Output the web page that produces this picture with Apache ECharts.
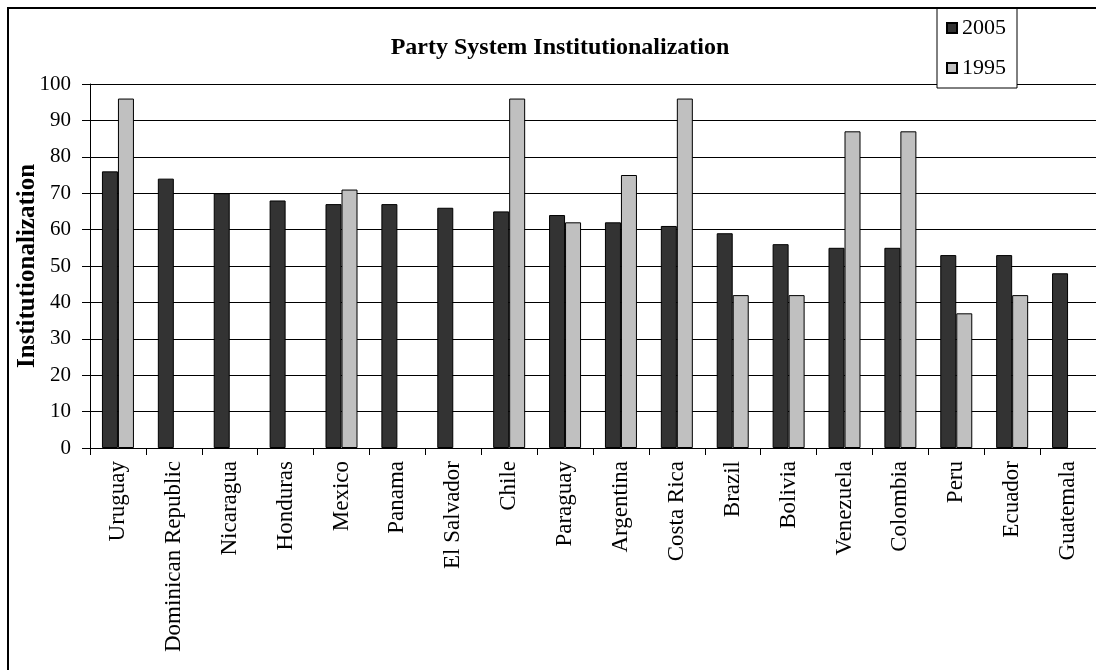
<!DOCTYPE html>
<html>
<head>
<meta charset="utf-8">
<script src="https://cdn.jsdelivr.net/npm/echarts@6/dist/echarts.min.js"></script>
<style>
html,body{margin:0;padding:0;background:#fff;}
#chart{width:1096px;height:670px;}
</style>
</head>
<body>
<div id="chart"></div>
<script>
const categories = ["Uruguay","Dominican Republic","Nicaragua","Honduras","Mexico","Panama","El Salvador","Chile","Paraguay","Argentina","Costa Rica","Brazil","Bolivia","Venezuela","Colombia","Peru","Ecuador","Guatemala"];
const values2005 = [76,74,70,68,67,67,66,65,64,62,61,59,56,55,55,53,53,48];
const values1995 = [96,null,null,null,71,null,null,96,62,75,96,42,42,87,87,37,42,null];
const seriesNames = ["2005","1995"];
const yTicks = {min:0, max:100, interval:10};

const FONT = "'Liberation Serif','Times New Roman',serif";
const chart = echarts.init(document.getElementById('chart'), null, {renderer:'canvas'});
chart.setOption({
  animation:false,
  backgroundColor:'#fff',
  title:{
    text:'Party System Institutionalization',
    left:555, top:31, textAlign:'center',
    textStyle:{fontFamily:FONT, fontSize:24, fontWeight:'bold', color:'#000'}
  },
  legend:{
    orient:'vertical', left:937, top:8,
    padding:[9,11,9,9],
    borderColor:'#000', borderWidth:1, backgroundColor:'#fff',
    itemWidth:10, itemHeight:10, itemGap:18,
    icon:'rect',
    textStyle:{fontFamily:FONT, fontSize:22, color:'#000', padding:[0,0,0,0]},
    data:seriesNames
  },
  grid:{left:90, top:84, width:1015, height:364, containLabel:false},
  xAxis:{
    type:'category', data:categories,
    axisLine:{lineStyle:{color:'#000', width:1}},
    axisTick:{show:true, length:7, lineStyle:{color:'#000'}},
    axisLabel:{rotate:90, interval:0, margin:13, fontFamily:FONT, fontSize:23, color:'#000'}
  },
  yAxis:{
    type:'value', min:yTicks.min, max:yTicks.max, interval:yTicks.interval,
    name:'Institutionalization', nameLocation:'middle', nameGap:50, nameRotate:90,
    nameMoveOverlap:false,
    nameTextStyle:{fontFamily:FONT, fontSize:25, fontWeight:'bold', color:'#000'},
    axisLine:{show:true, lineStyle:{color:'#000', width:1}},
    axisTick:{show:true, length:8, lineStyle:{color:'#000'}},
    axisLabel:{margin:19, fontFamily:FONT, fontSize:21, color:'#000'},
    splitLine:{show:true, lineStyle:{color:'#000', width:1}}
  },
  series:[
    {name:seriesNames[0], type:'bar', data:values2005, barWidth:16, barGap:'0%',
     itemStyle:{color:'#333333', borderColor:'#000', borderWidth:1}},
    {name:seriesNames[1], type:'bar', data:values1995, barWidth:16, barGap:'0%',
     itemStyle:{color:'#c0c0c0', borderColor:'#000', borderWidth:1}}
  ],
  graphic:[
    {type:'rect', shape:{x:8, y:8, width:1300, height:900}, style:{fill:null, stroke:'#000', lineWidth:2}, z:100, silent:true}
  ]
});
</script>
</body>
</html>
